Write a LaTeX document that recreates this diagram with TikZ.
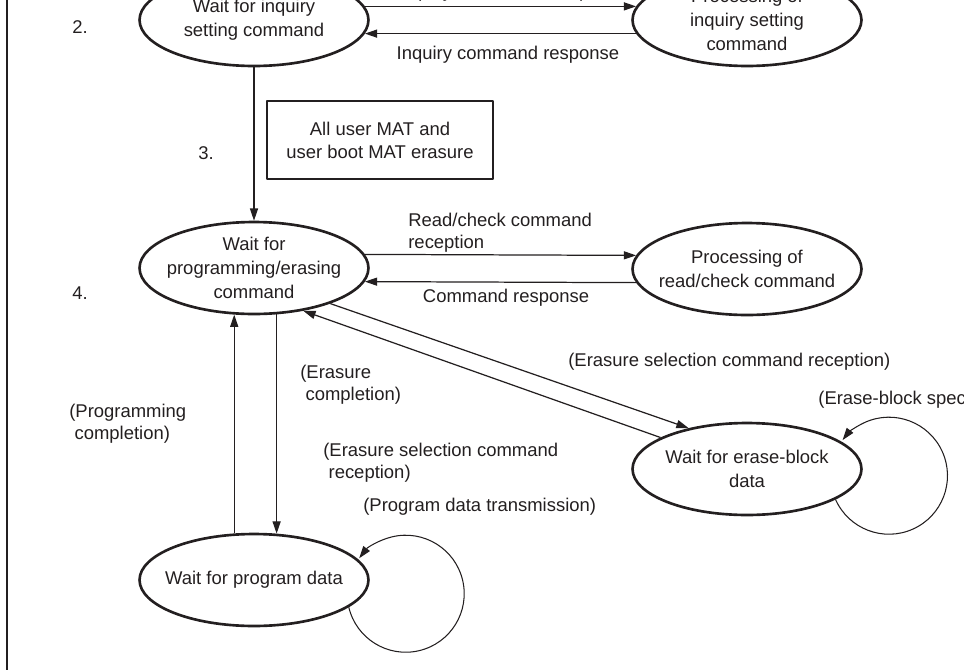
\documentclass[tikz,border=0pt]{standalone}
\usepackage{fontspec}
\setmainfont{Liberation Sans}
\usepackage{tikz}
\usetikzlibrary{arrows.meta,shapes.geometric}
\definecolor{ink}{HTML}{231F20}

\begin{document}
\begin{tikzpicture}[x=0.02cm,y=-0.02cm,>={Triangle[length=7pt,width=4.6pt]},line join=round,
  state/.style={ellipse,draw=ink,line width=1.5pt,minimum width=4.58cm,minimum height=1.84cm,
    inner sep=-6pt,align=center,text=ink,font=\fontsize{10.5}{13.6}\selectfont},
  lbl/.style={inner sep=0pt,text=ink,align=left,font=\fontsize{10.5}{12.5}\selectfont},
  arr/.style={->,draw=ink,line width=0.7pt}]
  \useasboundingbox (0,0) rectangle (964,670);
  \clip (0,0) rectangle (964,670);

  % Left edge of the frame
  \draw[ink,line width=1.6pt] (7,0) -- (7,670);

  % States
  \node[state] (waitinq) at (254,20) {Wait for inquiry\\setting command};
  \node[state] (procinq) at (747,20) {Processing of\\inquiry setting\\command};
  \node[state] (waitpe)  at (254,268) {Wait for\\programming/erasing\\command};
  \node[state] (procrd)  at (747,269) {Processing of\\read/check command};
  \node[state] (waitblk) at (747,469) {Wait for erase-block\\data};
  \node[state] (waitpd)  at (254,580) {Wait for program data};

  % Erasure box
  \node[draw=ink,line width=1.1pt,minimum width=4.52cm,minimum height=1.56cm,align=center,
    text=ink,font=\fontsize{10.5}{13.2}\selectfont] (erasebox) at (380,140)
    {All user MAT and\\user boot MAT erasure};

  % Step numbers
  \node[lbl] (n2) at (80,27) {2.};
  \node[lbl] (n3) at (206,153) {3.};
  \node[lbl] (n4) at (80,293) {4.};

  % Transitions
  \draw[arr] (waitinq.7) -- (procinq.173);
  \draw[arr] (procinq.-173) -- (waitinq.-7);
  \draw[arr] (waitinq.south) -- (waitpe.north);
  \draw[arr] (waitpe.7) -- (procrd.173);
  \draw[arr] (procrd.-173) -- (waitpe.-7);
  \draw[arr] (waitpe.-25) -- (waitblk.145);
  \draw[arr] (waitblk.160) -- (waitpe.-41);
  \draw[arr] (waitpd.113) -- (waitpe.-113);
  \draw[arr] (waitpe.-64) -- (waitpd.64);

  % Self loops
  \draw[arr,line width=0.6pt] (waitblk.-19) arc[start angle=156,end angle=-142.5,radius=58.5];
  \draw[arr,line width=0.6pt] (waitpd.-16) arc[start angle=166.7,end angle=-142.7,radius=58.5];

  % Labels
  \node[lbl] (lrecv1) at (508,-7) {Inquiry command reception};
  \node[lbl] (lresp1) at (508,55) {Inquiry command response};
  \node[lbl,anchor=west] (lrd) at (408,233) {Read/check command\\reception};
  \node[lbl] (lresp2) at (506,298) {Command response};
  \node[lbl,anchor=west] (lsel1) at (568,362) {(Erasure selection command reception)};
  \node[lbl,anchor=west] (lblk) at (818,400) {(Erase-block specification)};
  \node[lbl,anchor=west] (lercomp) at (300,385) {(Erasure\\\hspace*{3pt}completion)};
  \node[lbl,anchor=west] (lpgcomp) at (69,424) {(Programming\\\hspace*{3pt}completion)};
  \node[lbl,anchor=west] (lsel2) at (323,463) {(Erasure selection command\\\hspace*{3pt}reception)};
  \node[lbl,anchor=west] (lpd) at (363,507) {(Program data transmission)};
\end{tikzpicture}
\end{document}
